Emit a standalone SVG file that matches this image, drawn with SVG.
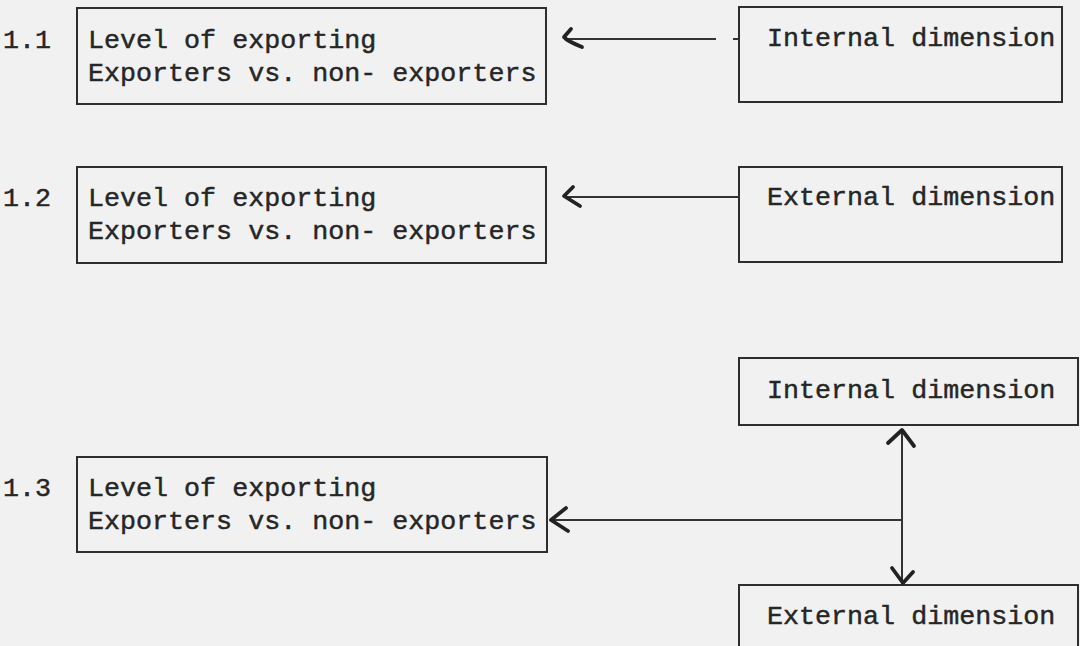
<svg xmlns="http://www.w3.org/2000/svg" width="1080" height="646" viewBox="0 0 1080 646">
  <style>
    .box { fill: none; stroke: #2e2e2e; stroke-width: 2; }
    .txt { font-family: "Liberation Mono", "DejaVu Sans Mono", monospace; font-size: 26.7px; fill: #262626; stroke: #262626; stroke-width: 0.45; }
    .line { fill: none; stroke: #333333; stroke-width: 2; }
    .head { fill: none; stroke: #222222; stroke-width: 3.8; stroke-linecap: round; stroke-linejoin: round; }
  </style>
  <rect x="0" y="0" width="1080" height="646" fill="#f1f1f1"/>

  <!-- Model 1.1 -->
  <g id="level-1-1">
    <text class="txt" x="3" y="48">1.1</text>
    <rect class="box" x="77" y="8" width="469" height="96"/>
    <text class="txt" x="88" y="48">Level of exporting</text>
    <text class="txt" x="88" y="81">Exporters vs. non- exporters</text>
  </g>
  <g id="internal-1-1">
    <rect class="box" x="739" y="7" width="323" height="95"/>
    <text class="txt" x="767" y="46">Internal dimension</text>
  </g>

  <!-- Model 1.2 -->
  <g id="level-1-2">
    <text class="txt" x="3" y="206">1.2</text>
    <rect class="box" x="77" y="167" width="469" height="96"/>
    <text class="txt" x="88" y="206">Level of exporting</text>
    <text class="txt" x="88" y="239">Exporters vs. non- exporters</text>
  </g>
  <g id="external-1-2">
    <rect class="box" x="739" y="167" width="323" height="95"/>
    <text class="txt" x="767" y="205">External dimension</text>
  </g>

  <!-- Model 1.3 -->
  <g id="internal-1-3">
    <rect class="box" x="739" y="358" width="339" height="67"/>
    <text class="txt" x="767" y="398">Internal dimension</text>
  </g>
  <g id="level-1-3">
    <text class="txt" x="3" y="496">1.3</text>
    <rect class="box" x="77" y="457" width="470" height="95"/>
    <text class="txt" x="88" y="496">Level of exporting</text>
    <text class="txt" x="88" y="529">Exporters vs. non- exporters</text>
  </g>
  <g id="external-1-3">
    <rect class="box" x="739" y="585" width="339" height="72"/>
    <text class="txt" x="767" y="624">External dimension</text>
  </g>

  <!-- Connectors -->
  <g id="connectors">
    <!-- internal -> level (1.1) -->
    <line class="line" x1="566" y1="39" x2="716" y2="39"/>
    <line class="line" x1="733" y1="39" x2="739" y2="39"/>
    <path class="head" d="M571,29 L564,37 Q567,41 582,47"/>

    <!-- external -> level (1.2) -->
    <line class="line" x1="566" y1="197" x2="739" y2="197"/>
    <path class="head" d="M573,187 L564,196 L580,206"/>

    <!-- combined dimensions -> level (1.3) -->
    <line class="line" x1="552" y1="520" x2="902" y2="520"/>
    <path class="head" d="M566,508 L551,520 L568,531"/>
    <line class="line" x1="902" y1="429" x2="902" y2="584"/>
    <path class="head" d="M888,443 L902,430 L914,446"/>
    <path class="head" d="M892,568 L903,583 L913,572"/>
  </g>
</svg>
